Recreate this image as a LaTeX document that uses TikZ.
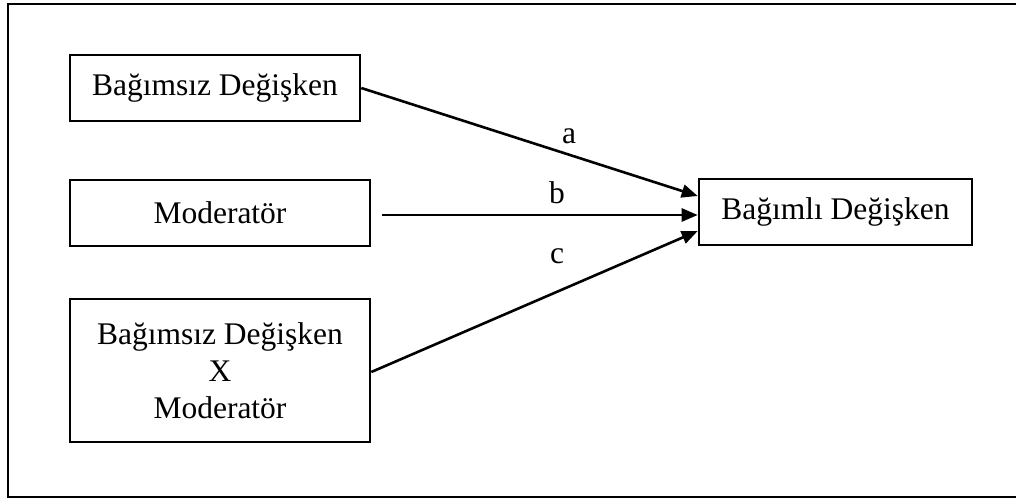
\documentclass[tikz,border=0pt]{standalone}
\usepackage{fontspec}
\setmainfont{Liberation Serif}
\usetikzlibrary{arrows.meta}
\begin{document}
\begin{tikzpicture}[x=1pt,y=-1pt,
  box/.style={draw,line width=2.6pt,inner sep=0pt,font=\fontsize{31.5}{37}\selectfont},
  conn/.style={line width=2.6pt,-{Triangle[length=16pt,width=13pt]}},
  lbl/.style={font=\fontsize{31.5}{36}\selectfont,inner sep=0pt}]
\useasboundingbox (0,0) rectangle (1016,498);
\begin{scope}
\clip (0,0) rectangle (1016,498);
\draw[line width=2.6pt] (8,4) rectangle (1030,497);
\end{scope}
\node[box,minimum width=290pt,minimum height=66pt] (iv) at (215,88) {Bağımsız Değişken};
\node[box,minimum width=300pt,minimum height=66pt] (mod) at (220,213) {Moderatör};
\node[box,minimum width=300pt,minimum height=143pt,align=center] (int) at (220,370.5) {Bağımsız Değişken\\X\\Moderatör};
\node[box,minimum width=273pt,minimum height=66pt] (dv) at (835.5,212) {Bağımlı Değişken};
\coordinate (bs) at (382,215);
\draw[conn] (iv.east) -- (dv.west |- 0,196);
\draw[conn] (bs) -- (dv.west |- 0,215);
\draw[conn] (int.east |- 0,372) -- (dv.west |- 0,231);
\node[lbl] (la) at (569,136) {a};
\node[lbl] (lb) at (557,193) {b};
\node[lbl] (lc) at (557,256) {c};
\end{tikzpicture}
\end{document}
